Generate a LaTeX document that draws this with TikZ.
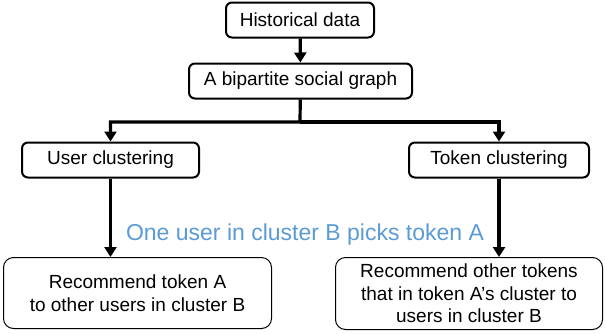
\documentclass[tikz,border=0pt]{standalone}
\usepackage{fontspec}
\setmainfont{Liberation Sans}
\usepackage{tikz}
\usetikzlibrary{arrows.meta}
\definecolor{pickblue}{RGB}{91,155,213}
\newcommand{\stageh}{35pt}
\newcommand{\outcomeh}{71pt}
\newcommand{\stagelw}{2pt}
\newcommand{\outcomelw}{1pt}
\newcommand{\flowlw}{3.2pt}
\newcommand{\stagefont}{\fontsize{19}{22}\selectfont}
\newcommand{\pickfont}{\fontsize{23}{27}\selectfont}
\tikzset{
  stage/.style={draw, line width=\stagelw, rounded corners=6pt,
    minimum height=\stageh, inner sep=0pt, font=\stagefont},
  outcome/.style={draw, line width=\outcomelw, rounded corners=10pt,
    minimum height=\outcomeh, inner sep=0pt, align=center,
    font=\fontsize{19}{22.5}\selectfont},
  flow/.style={line width=\flowlw, -{Triangle[width=12pt,length=10pt]}}
}

\begin{document}
\begin{tikzpicture}[x=1pt,y=-1pt]
    \useasboundingbox (0,0) rectangle (605,333);

    \node[stage, minimum width=148pt] (hist) at (300,20) {Historical data};
    \node[stage, minimum width=223pt] (graph) at (300.5,81)
      {A bipartite social graph};
    \node[stage, minimum width=177pt] (userc) at (110.5,160)
      {User clustering};
    \node[stage, minimum width=180pt] (tokenc) at (499,160)
      {Token clustering};

    \node[outcome, minimum width=268pt] (recsame) at (137.5,293)
      {Recommend token A\\to other users in cluster B};
    \node[outcome, minimum width=267pt, minimum height=72pt] (recother)
      at (469,293.5)
      {Recommend other tokens\\that in token A's cluster to\\users in cluster B};

    \node[text=pickblue, font=\pickfont, anchor=base, inner sep=0pt] (pick)
      at (305,240) {One user in cluster B picks token A};

    \coordinate (split) at (300,122);
    \draw[flow] (hist) -- (graph);
    \draw[flow] (graph) -- (split) -| (userc);
    \draw[flow] (split) -| (tokenc);
    \draw[flow] (userc) -- (userc |- recsame.north);
    \draw[flow] (tokenc) -- (tokenc |- recother.north);
\end{tikzpicture}
\end{document}
